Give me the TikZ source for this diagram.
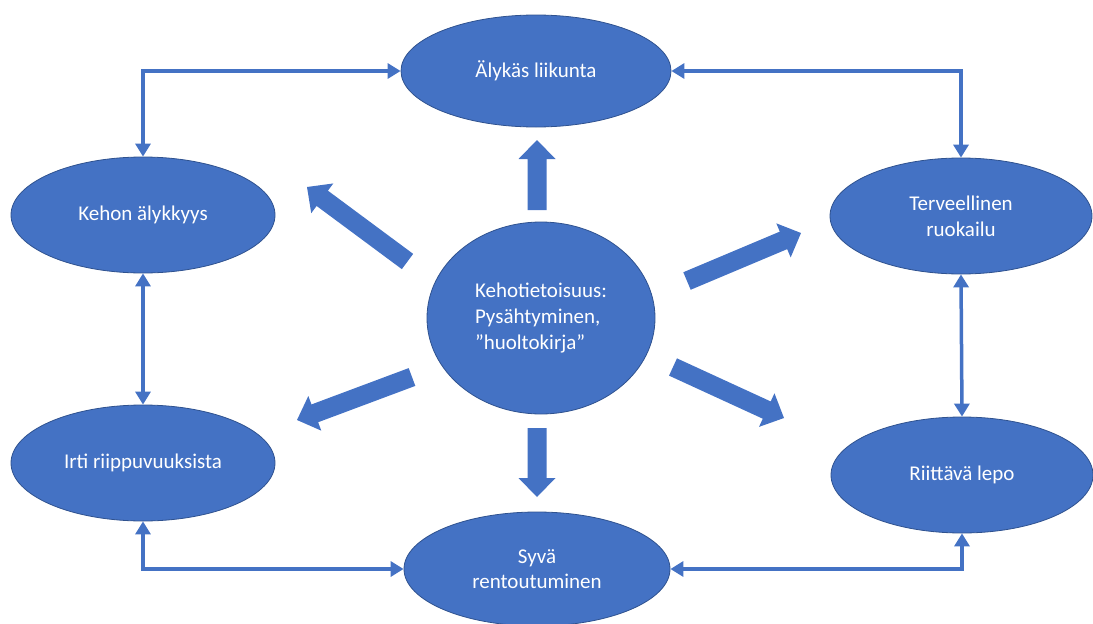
\documentclass[tikz,border=0pt]{standalone}
\usepackage{fontspec}
\setmainfont{Carlito}
\usetikzlibrary{shapes.geometric,arrows.meta}
\definecolor{obl}{HTML}{4472C4}
\definecolor{obd}{HTML}{2F528F}
\tikzset{
 ell/.style={ellipse, fill=obl, draw=obd, line width=0.8pt, inner sep=0pt, text=white,
   font=\fontsize{21}{25.6}\selectfont, align=center},
 conn/.style={draw=obl, line width=3.5pt,
   arrows={Triangle[width=15pt,length=13pt]-Triangle[width=15pt,length=13pt]}},
 blk/.style={fill=obl},
}
\newcommand\blockarr[4]{%
 \pgfmathsetmacro\bang{atan2(#4-#2,#3-#1)}%
 \pgfmathsetmacro\blen{veclen(#3-#1,#4-#2)}%
 \fill[blk, shift={(#1,#2)}, rotate=-\bang] (0,-9.5) -- (\blen-19,-9.5) -- (\blen-19,-18.5)
   -- (\blen,0) -- (\blen-19,18.5) -- (\blen-19,9.5) -- (0,9.5) -- cycle;}
\begin{document}
\begin{tikzpicture}[x=1pt,y=-1pt]
\useasboundingbox (0,0) rectangle (1093,624);
\node[ell, minimum width=270pt, minimum height=112pt] (aly) at (536,71) {Älykäs liikunta};
\node[ell, minimum width=264pt, minimum height=116pt] (keh) at (143,215) {Kehon älykkyys};
\node[ell, minimum width=262pt, minimum height=116pt] (ter) at (961,216) {Terveellinen\\ruokailu};
\node[ell, minimum width=264pt, minimum height=116pt] (irti) at (143,463) {Irti riippuvuuksista};
\node[ell, minimum width=262pt, minimum height=116pt] (rii) at (962,475) {Riittävä lepo};
\node[ell, minimum width=266pt, minimum height=114pt] (syv) at (537,569) {Syvä\\rentoutuminen};
\node[ell, minimum width=228pt, minimum height=192pt, align=left] (cen) at (541,318)
  {Kehotietoisuus:\\Pysähtyminen,\\”huoltokirja”};
\draw[conn] (keh.north) |- (aly.west);
\draw[conn] (aly.east) -| (ter.north);
\draw[conn] (keh.south) -- (irti.north);
\draw[conn] (ter.south) -- (rii.north);
\draw[conn] (irti.south) |- (syv.west);
\draw[conn] (syv.east) -| (rii.south);
\blockarr{537}{210}{537}{140}
\blockarr{537}{428}{537}{497}
\blockarr{407.5}{261.5}{307}{187}
\blockarr{687}{281}{801}{233}
\blockarr{412}{377}{297}{420}
\blockarr{673}{367}{784}{418}
\end{tikzpicture}
\end{document}
